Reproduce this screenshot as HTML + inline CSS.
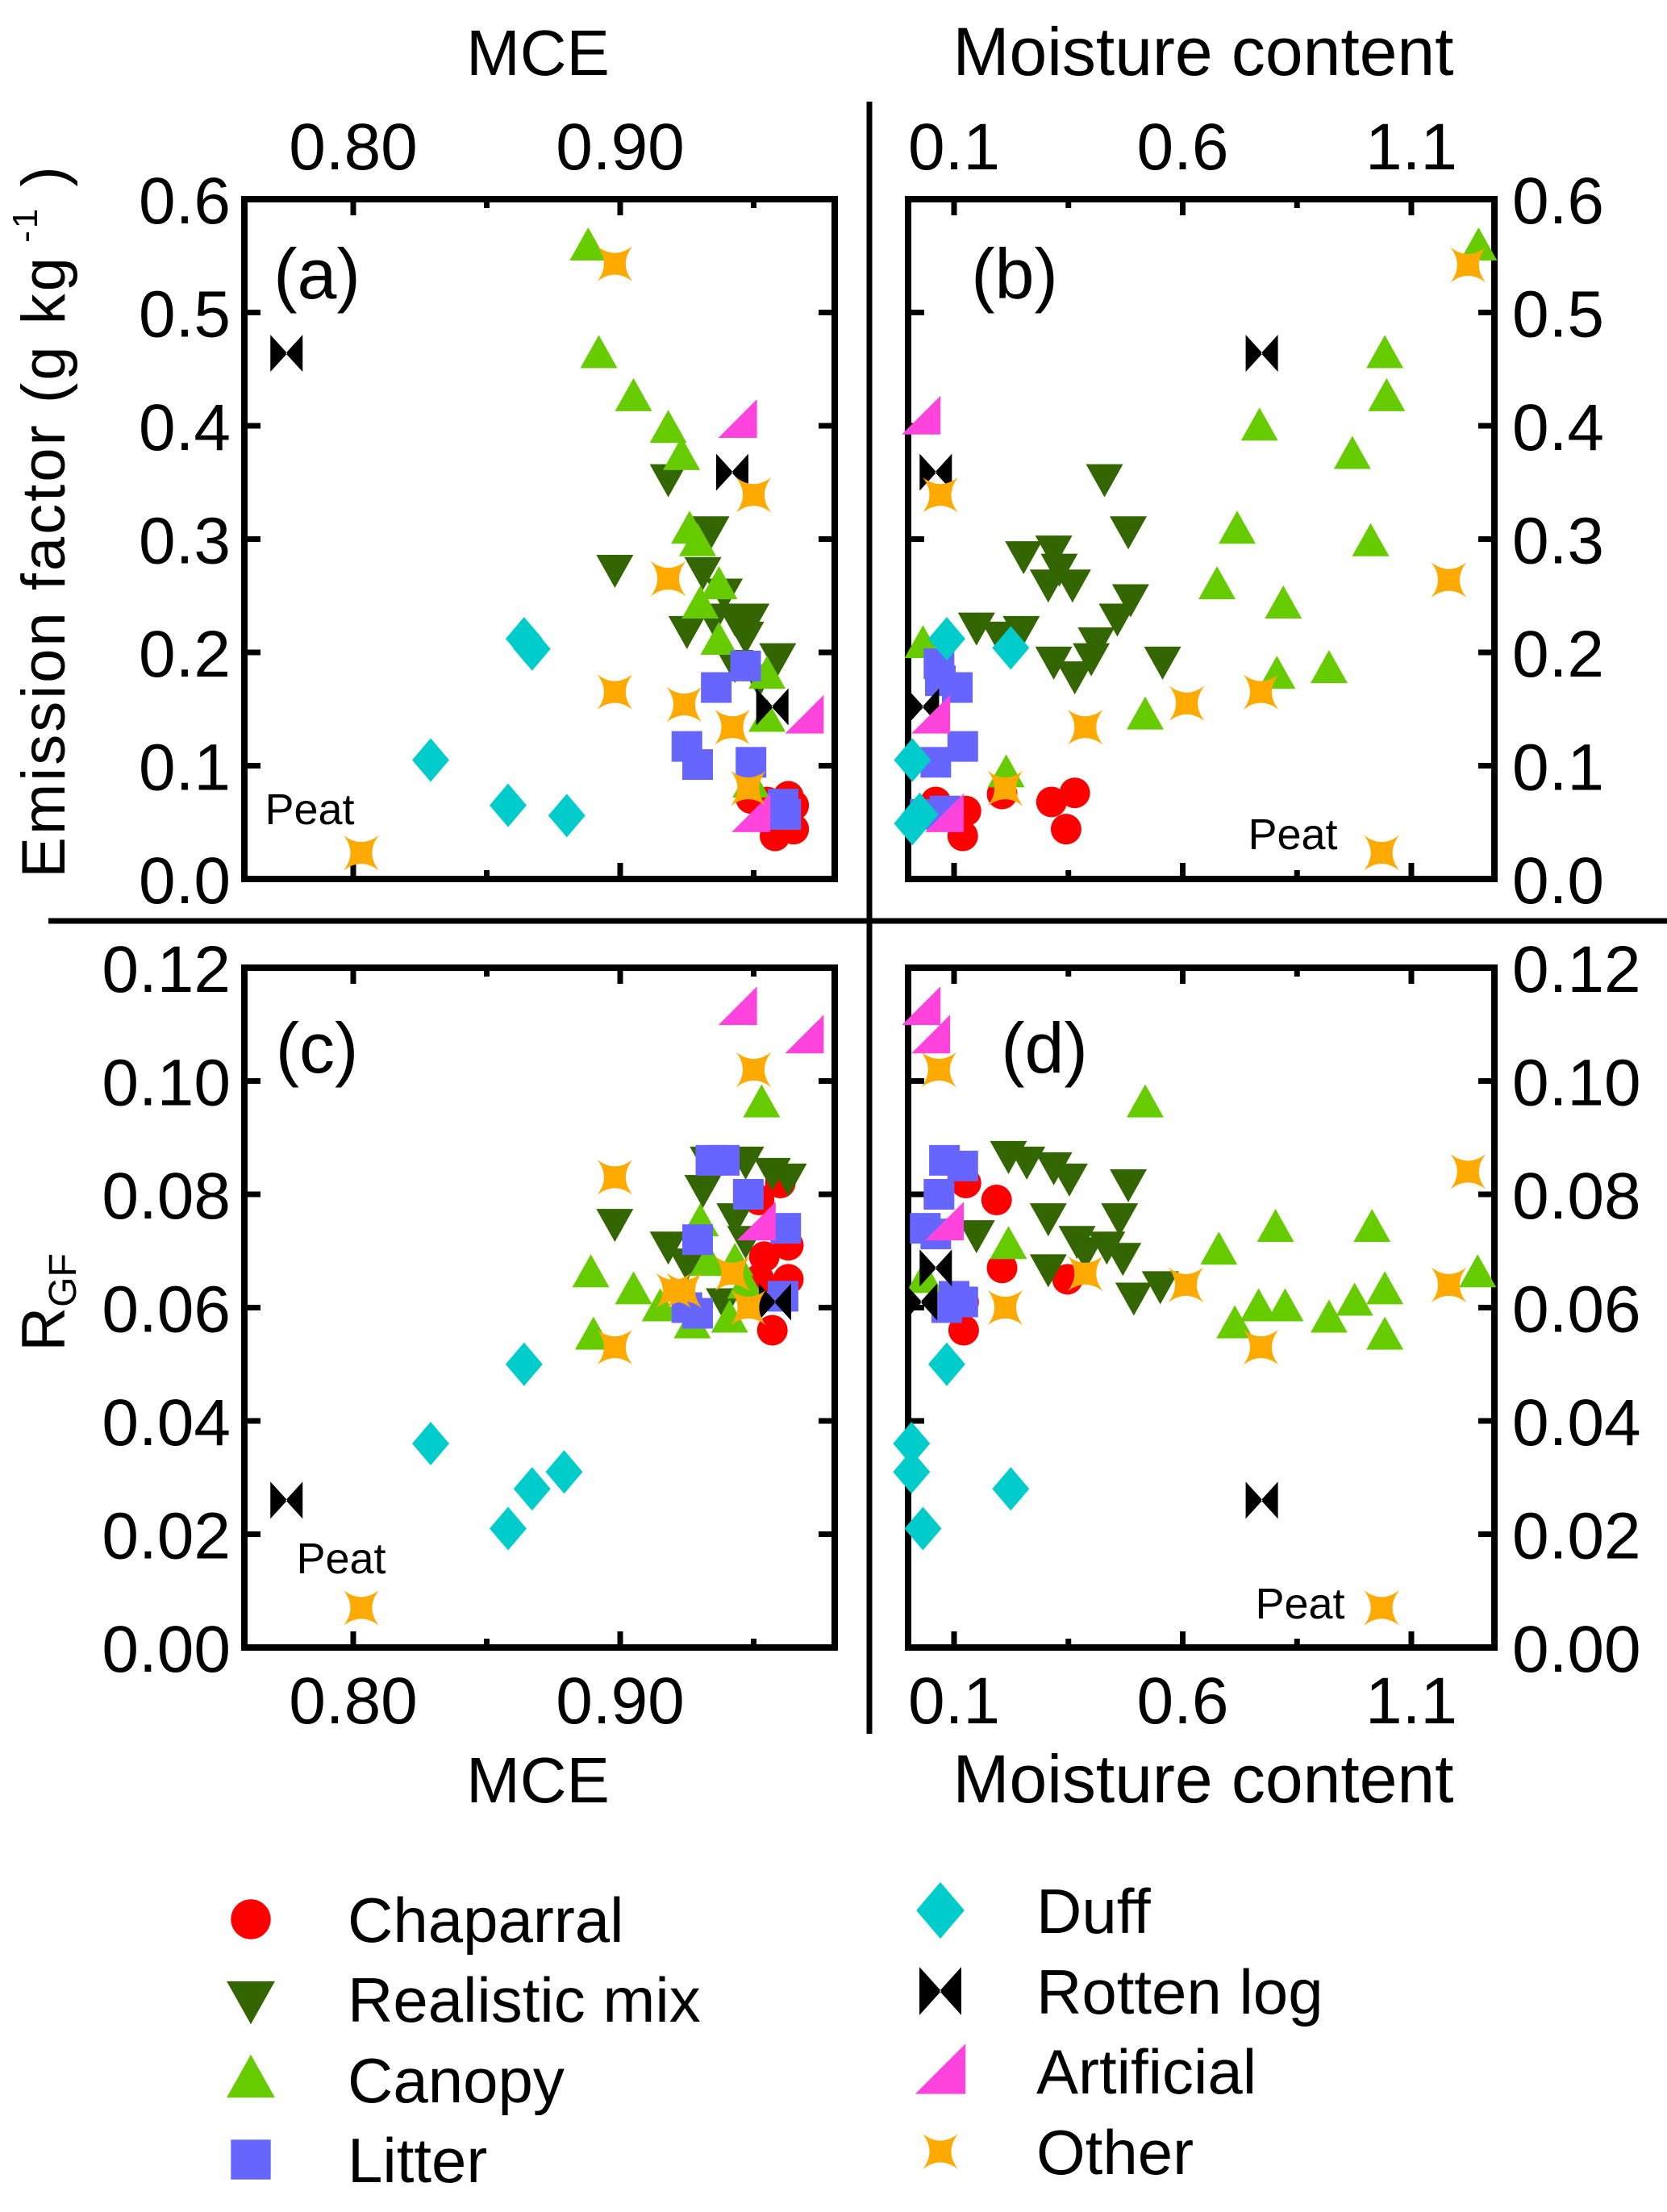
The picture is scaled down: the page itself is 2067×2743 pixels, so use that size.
<!DOCTYPE html>
<html><head><meta charset="utf-8"><style>
html,body{margin:0;padding:0;background:#fff;}
svg{display:block;font-family:"Liberation Sans",sans-serif;}
</style></head><body>
<svg id="fig" width="2067" height="2743" viewBox="0 0 2067 2743" xmlns="http://www.w3.org/2000/svg">
<g id="static"></g>
<g id="marks"></g>
</svg>
<script>
// ---- data ----
const categories = ["chaparral","realistic","canopy","litter","duff","rotten","artificial","other"];
const legendLabels = ["Chaparral","Realistic mix","Canopy","Litter","Duff","Rotten log","Artificial","Other"];
const mceTicks = [0.80,0.85,0.90,0.95];
const mceTickLabels = ["0.80","","0.90",""];
const moistTicks = [0.1,0.35,0.6,0.85,1.1];
const moistTickLabels = ["0.1","","0.6","","1.1"];
const efTicks = [0,0.1,0.2,0.3,0.4,0.5,0.6];
const efTickLabels = ["0.0","0.1","0.2","0.3","0.4","0.5","0.6"];
const rgfTicks = [0,0.02,0.04,0.06,0.08,0.10,0.12];
const rgfTickLabels = ["0.00","0.02","0.04","0.06","0.08","0.10","0.12"];

// Panel (a): MCE vs EF
const a_chaparral = [[0.949,0.071],[0.963,0.073],[0.965,0.044],[0.958,0.038],[0.955,0.068],[0.965,0.065]];
const a_realistic = [[0.918,0.354],[0.898,0.274],[0.934,0.308],[0.931,0.272],[0.939,0.253],[0.925,0.22],[0.943,0.231],[0.949,0.231],[0.959,0.196],[0.947,0.215],[0.952,0.177],[0.943,0.19],[0.935,0.231]];
const a_canopy = [[0.888,0.558],[0.892,0.463],[0.905,0.425],[0.918,0.397],[0.923,0.373],[0.926,0.308],[0.929,0.297],[0.937,0.259],[0.930,0.242],[0.937,0.21],[0.955,0.18],[0.955,0.142],[0.949,0.084]];
const a_litter = [[0.947,0.188],[0.936,0.169],[0.925,0.117],[0.929,0.101],[0.949,0.103],[0.962,0.057],[0.961,0.066]];
const a_duff = [[0.864,0.212],[0.867,0.203],[0.829,0.105],[0.858,0.065],[0.880,0.056]];
const a_rotten = [[0.775,0.464],[0.942,0.359],[0.957,0.152]];
const a_artificial = [[0.944,0.405],[0.969,0.144],[0.949,0.057]];
const a_other = [[0.898,0.543],[0.950,0.339],[0.918,0.265],[0.898,0.165],[0.924,0.154],[0.942,0.134],[0.948,0.080],[0.803,0.023]];

// Panel (b): moisture vs EF
const b_chaparral = [[0.060,0.068],[0.126,0.060],[0.119,0.038],[0.205,0.075],[0.313,0.068],[0.364,0.076],[0.345,0.044]];
const b_realistic = [[0.149,0.223],[0.252,0.286],[0.318,0.291],[0.306,0.261],[0.359,0.261],[0.429,0.354],[0.481,0.308],[0.486,0.248],[0.457,0.231],[0.411,0.21],[0.364,0.18],[0.318,0.193],[0.247,0.22],[0.556,0.193],[0.2,0.215],[0.4,0.196],[0.33,0.275]];
const b_canopy = [[1.247,0.558],[1.042,0.463],[1.046,0.425],[0.971,0.374],[1.011,0.297],[0.768,0.399],[0.719,0.308],[0.675,0.259],[0.82,0.242],[0.806,0.18],[0.92,0.185],[0.518,0.144],[0.032,0.207],[0.214,0.093]];
const b_litter = [[0.067,0.19],[0.107,0.169],[0.119,0.117],[0.060,0.103],[0.037,0.057],[0.08,0.06],[0.07,0.175]];
const b_duff = [[0.084,0.212],[0.224,0.204],[0.009,0.105],[0.025,0.057],[0.009,0.049]];
const b_rotten = [[0.773,0.464],[0.06,0.359],[0.032,0.152]];
const b_artificial = [[0.028,0.408],[0.049,0.144],[0.079,0.057]];
const b_other = [[1.224,0.542],[0.07,0.339],[1.182,0.264],[0.609,0.155],[0.771,0.165],[0.387,0.134],[0.212,0.08],[1.035,0.023]];

// Panel (c): MCE vs RGF
const c_chaparral = [[0.960,0.082],[0.952,0.079],[0.963,0.071],[0.963,0.065],[0.954,0.069],[0.957,0.056],[0.952,0.065]];
const c_realistic = [[0.898,0.075],[0.933,0.086],[0.947,0.086],[0.957,0.084],[0.963,0.083],[0.918,0.071],[0.931,0.081],[0.943,0.076],[0.925,0.068],[0.947,0.072],[0.939,0.061]];
const c_canopy = [[0.953,0.096],[0.889,0.066],[0.905,0.063],[0.890,0.055],[0.915,0.06],[0.927,0.057],[0.930,0.075],[0.941,0.058],[0.943,0.068],[0.933,0.068],[0.947,0.064],[0.923,0.06]];
const c_litter = [[0.934,0.086],[0.939,0.086],[0.948,0.080],[0.929,0.072],[0.962,0.074],[0.925,0.06],[0.929,0.059],[0.961,0.062]];
const c_duff = [[0.864,0.050],[0.829,0.036],[0.879,0.031],[0.867,0.028],[0.858,0.021]];
const c_rotten = [[0.775,0.026],[0.958,0.061]];
const c_artificial = [[0.944,0.113],[0.969,0.108],[0.951,0.075]];
const c_other = [[0.950,0.102],[0.898,0.083],[0.898,0.053],[0.920,0.063],[0.924,0.063],[0.942,0.066],[0.948,0.060],[0.803,0.007]];

// Panel (d): moisture vs RGF
const d_chaparral = [[0.126,0.082],[0.193,0.079],[0.205,0.067],[0.348,0.065],[0.121,0.061],[0.121,0.056]];
const d_realistic = [[0.219,0.087],[0.259,0.086],[0.318,0.085],[0.352,0.083],[0.481,0.082],[0.462,0.076],[0.306,0.076],[0.149,0.073],[0.369,0.072],[0.434,0.071],[0.469,0.069],[0.306,0.067],[0.493,0.062],[0.551,0.064],[0.387,0.07]];
const d_canopy = [[0.518,0.096],[0.679,0.070],[0.803,0.074],[1.014,0.074],[1.245,0.066],[1.042,0.063],[0.976,0.061],[0.92,0.058],[1.042,0.055],[0.824,0.06],[0.766,0.06],[0.714,0.057],[0.219,0.071],[0.035,0.065]];
const d_litter = [[0.079,0.086],[0.119,0.085],[0.067,0.08],[0.037,0.074],[0.06,0.073],[0.119,0.061],[0.084,0.06],[0.10,0.062]];
const d_duff = [[0.084,0.05],[0.007,0.036],[0.007,0.031],[0.224,0.028],[0.032,0.021]];
const d_rotten = [[0.06,0.067],[0.028,0.061],[0.773,0.026]];
const d_artificial = [[0.028,0.113],[0.049,0.108],[0.079,0.075]];
const d_other = [[0.067,0.102],[1.224,0.084],[1.182,0.064],[0.607,0.064],[0.387,0.066],[0.212,0.060],[0.771,0.053],[1.035,0.007]];

// ---- rendering ----
const NS = "http://www.w3.org/2000/svg";
const st = document.getElementById("static");
const mk = document.getElementById("marks");
function el(tag, attrs, parent){
  const e = document.createElementNS(NS, tag);
  for (const k in attrs) e.setAttribute(k, attrs[k]);
  parent.appendChild(e);
  return e;
}
// axis functions
const xMCE = v => 438 + (v - 0.80) * 3310;
const xMoist = v => 1183 + (v - 0.1) * 567;
const yEF = v => 1090 - v * 1405;
const yRGF = v => 2043 - v * 7025;

const colors = {chaparral:"#ff0000",realistic:"#336600",canopy:"#66cc00",litter:"#6666ff",duff:"#00cccc",rotten:"#000000",artificial:"#ff44dd",other:"#ffaa00"};

function marker(cat, cx, cy, parent, s){
  s = s || 1;
  const c = colors[cat];
  let e;
  if (cat==="chaparral") e = el("circle",{cx:cx,cy:cy,r:19*s,fill:c},parent);
  else if (cat==="realistic") e = el("polygon",{points:`${cx-23*s},${cy-17*s} ${cx+23*s},${cy-17*s} ${cx},${cy+24*s}`,fill:c},parent);
  else if (cat==="canopy") e = el("polygon",{points:`${cx-23*s},${cy+17*s} ${cx+23*s},${cy+17*s} ${cx},${cy-24*s}`,fill:c},parent);
  else if (cat==="litter") e = el("rect",{x:cx-19*s,y:cy-19*s,width:38*s,height:38*s,fill:c},parent);
  else if (cat==="duff") e = el("polygon",{points:`${cx},${cy-27*s} ${cx+23*s},${cy} ${cx},${cy+27*s} ${cx-23*s},${cy}`,fill:c},parent);
  else if (cat==="rotten") e = el("path",{d:`M${cx-20*s},${cy-23*s} L${cx+1},${cy} L${cx-20*s},${cy+23*s} Z M${cx+20*s},${cy-23*s} L${cx-1},${cy} L${cx+20*s},${cy+23*s} Z`,fill:c},parent);
  else if (cat==="artificial") e = el("polygon",{points:`${cx-24*s},${cy+22*s} ${cx+24*s},${cy+22*s} ${cx+24*s},${cy-26*s}`,fill:c},parent);
  else {
    const r = 22, k = 5;
    e = el("path",{d:`M${cx-r},${cy-r} Q${cx},${cy-k} ${cx+r},${cy-r} Q${cx+k},${cy} ${cx+r},${cy+r} Q${cx},${cy+k} ${cx-r},${cy+r} Q${cx-k},${cy} ${cx-r},${cy-r} Z`,fill:c},parent);
  }
  return e;
}

function text(str, x, y, size, anchor, name){
  const t = el("text",{x:x,y:y,"font-size":size,"text-anchor":anchor,fill:"#000"},st);
  t.textContent = str;
  
  
  return t;
}

const panels = [
  {id:"a", x0:303, x1:1035, y0:247, y1:1090, xf:xMCE, yf:yEF, xt:mceTicks, xl:mceTickLabels, yt:efTicks, yl:efTickLabels, yside:"left", xside:"top",
   sets:[a_chaparral,a_realistic,a_canopy,a_litter,a_duff,a_rotten,a_artificial,a_other], label:[393,370], peat:[384,1022]},
  {id:"b", x0:1126, x1:1853, y0:247, y1:1090, xf:xMoist, yf:yEF, xt:moistTicks, xl:moistTickLabels, yt:efTicks, yl:efTickLabels, yside:"right", xside:"top",
   sets:[b_chaparral,b_realistic,b_canopy,b_litter,b_duff,b_rotten,b_artificial,b_other], label:[1258,370], peat:[1603,1053]},
  {id:"c", x0:303, x1:1035, y0:1200, y1:2043, xf:xMCE, yf:yRGF, xt:mceTicks, xl:mceTickLabels, yt:rgfTicks, yl:rgfTickLabels, yside:"left", xside:"bottom",
   sets:[c_chaparral,c_realistic,c_canopy,c_litter,c_duff,c_rotten,c_artificial,c_other], label:[393,1330], peat:[423,1951]},
  {id:"d", x0:1126, x1:1853, y0:1200, y1:2043, xf:xMoist, yf:yRGF, xt:moistTicks, xl:moistTickLabels, yt:rgfTicks, yl:rgfTickLabels, yside:"right", xside:"bottom",
   sets:[d_chaparral,d_realistic,d_canopy,d_litter,d_duff,d_rotten,d_artificial,d_other], label:[1295,1330], peat:[1612,2007]}
];

panels.forEach(p => {
  const g = el("g",{},st);
  
  
  const fr = el("rect",{x:p.x0,y:p.y0,width:p.x1-p.x0,height:p.y1-p.y0,fill:"none",stroke:"#000","stroke-width":8},g);
  
  
  p.xt.forEach((v,i) => {
    const x = p.xf(v);
    const len = p.xl[i] ? 20 : 11;
    const t1 = el("line",{x1:x,x2:x,y1:p.y0,y2:p.y0+len,stroke:"#000","stroke-width":7},g);
    
    
    const t2 = el("line",{x1:x,x2:x,y1:p.y1,y2:p.y1-len,stroke:"#000","stroke-width":7},g);
    
    
    if (p.xl[i]) {
      const y = p.xside==="top" ? 210 : 2137;
      text(p.xl[i], x, y, 82, "middle", "x-tick-label");
    }
  });
  p.yt.forEach((v,i) => {
    const y = p.yf(v);
    const t1 = el("line",{x1:p.x0,x2:p.x0+20,y1:y,y2:y,stroke:"#000","stroke-width":7},g);
    
    
    const t2 = el("line",{x1:p.x1,x2:p.x1-20,y1:y,y2:y,stroke:"#000","stroke-width":7},g);
    
    
    if (p.yside==="left") text(p.yl[i], 286, y+30, 82, "end", "y-tick-label");
    else text(p.yl[i], p.x1+22, y+30, 82, "start", "y-tick-label");
  });
  text("(" + p.id + ")", p.label[0], p.label[1], 88, "middle", "panel-label-" + p.id);
  text("Peat", p.peat[0], p.peat[1], 54, "middle", "peat-annotation");
  const mg = el("g",{},mk);
  
  
  p.sets.forEach((arr, ci) => {
    arr.forEach(pt => {
      const m = marker(categories[ci], p.xf(pt[0]), p.yf(pt[1]), mg);
      
      
    });
  });
});

const vd = el("line",{x1:1078,x2:1078,y1:126,y2:2150,stroke:"#000","stroke-width":7},st);


const hd = el("line",{x1:60,x2:2067,y1:1142,y2:1142,stroke:"#000","stroke-width":7},st);



text("MCE", 667, 93, 80, "middle", "x-axis-title-top-left");
text("Moisture content", 1492, 93, 84, "middle", "x-axis-title-top-right");
text("MCE", 667, 2235, 80, "middle", "x-axis-title-bottom-left");
text("Moisture content", 1492, 2235, 84, "middle", "x-axis-title-bottom-right");

const yt = el("text",{transform:"translate(80,646) rotate(-90)","font-size":76,"text-anchor":"middle","letter-spacing":3,fill:"#000"},st);


yt.innerHTML = 'Emission factor (g kg<tspan font-size="44" dy="-34"> -1</tspan><tspan dy="34"> )</tspan>';

const rg = el("text",{transform:"translate(80,1615) rotate(-90)","font-size":76,"text-anchor":"middle",fill:"#000"},st);


rg.innerHTML = 'R<tspan font-size="48" dy="14">GF</tspan>';

const legX = [311, 1166];
const legTX = [431, 1285];
const legY = [[2380,2479,2579,2678],[2369,2469,2568,2668]];
const lg = el("g",{},st);


categories.forEach((cat, i) => {
  const col = i < 4 ? 0 : 1, row = i % 4;
  const cy = legY[col][row];
  const m = marker(cat, legX[col], cy, lg, 1.3);
  
  
  const t = el("text",{x:legTX[col],y:cy+28,"font-size":78,fill:"#000"},lg);
  t.textContent = legendLabels[i];
  
  
});
</script>
</body></html>
